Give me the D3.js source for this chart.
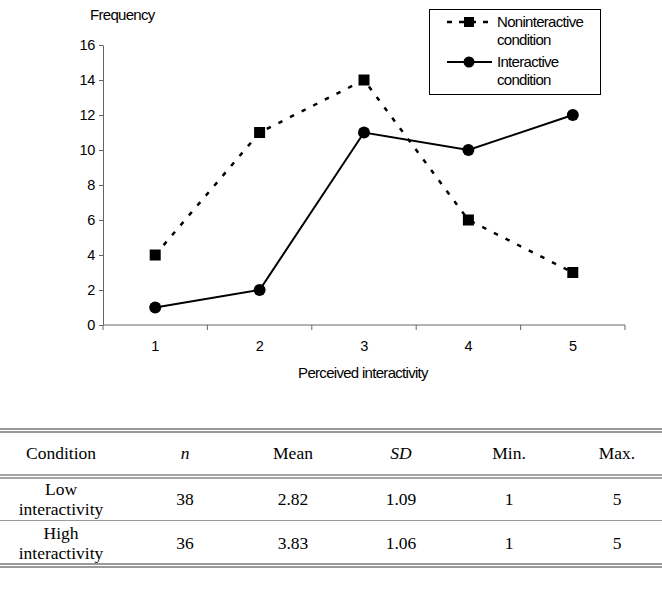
<!DOCTYPE html>
<html>
<head>
<meta charset="utf-8">
<script src="https://cdn.jsdelivr.net/npm/d3@7"></script>
<style>
  body { margin: 0; background: #fff; }
  svg { display: block; }
  .ax text { font-family: "Liberation Sans", Arial, sans-serif; font-size: 14.5px; fill: #000; letter-spacing: -0.3px; }
  .ax path, .ax line { stroke: #666; }
  .tbl text { font-family: "Liberation Serif", "Times New Roman", serif; font-size: 17.5px; fill: #000; }
</style>
</head>
<body>
<div id="chart"></div>
<script>
// 数据
const categories = [1, 2, 3, 4, 5];
const nonInteractive = [4, 11, 14, 6, 3];
const interactive = [1, 2, 11, 10, 12];
const yTicks = [0, 2, 4, 6, 8, 10, 12, 14, 16];
const legendLabels = [['Noninteractive', 'condition'], ['Interactive', 'condition']];

// 表格数据
const tableHeader = ['Condition', 'n', 'Mean', 'SD', 'Min.', 'Max.'];
const tableItalic = [false, true, false, true, false, false];
const rowNames = [['Low', 'interactivity'], ['High', 'interactivity']];
const rowN = [38, 36];
const rowMean = ['2.82', '3.83'];
const rowSD = ['1.09', '1.06'];
const rowMin = [1, 1];
const rowMax = [5, 5];

const W = 662, H = 596;
const svg = d3.select('#chart').append('svg').attr('width', W).attr('height', H);

const x = d3.scaleBand().domain(categories).range([103, 625]);
const y = d3.scaleLinear().domain([0, 16]).range([325, 45]);

// 坐标轴
svg.append('g').attr('class', 'ax').attr('transform', 'translate(103,0)')
    .call(d3.axisLeft(y).tickValues(yTicks).tickSize(4).tickSizeOuter(0).tickPadding(4));
const gx = svg.append('g').attr('class', 'ax').attr('transform', 'translate(0,325)')
    .call(d3.axisBottom(x).tickSize(0).tickPadding(16));
gx.select('.domain').remove();
gx.append('line').attr('x1', 103).attr('x2', 625).attr('stroke', '#666');
// 分类边界的刻度
const bounds = categories.map(c => x(c)).concat([x.range()[1]]);
gx.selectAll('.bnd').data(bounds).enter().append('line')
    .attr('class', 'bnd').attr('x1', d => d).attr('x2', d => d).attr('y1', 0).attr('y2', 5)
    .attr('stroke', '#666');

svg.append('text').attr('class', 'lbl').attr('x', 90).attr('y', 20).text('Frequency');
svg.append('text').attr('class', 'lbl').attr('x', 363).attr('y', 378).attr('text-anchor', 'middle').text('Perceived interactivity');
svg.selectAll('.lbl').style('font-family', '"Liberation Sans", Arial, sans-serif').style('font-size', '15px').style('letter-spacing', '-0.7px');

const cx = d => x(d) + x.bandwidth() / 2;
const line = d3.line().x((d, i) => cx(categories[i])).y(d => y(d));

// 非互动
svg.append('path').datum(nonInteractive).attr('d', line)
    .attr('fill', 'none').attr('stroke', '#000').attr('stroke-width', 2.5).attr('stroke-dasharray', '4.5,8.5');
svg.selectAll('.sq').data(nonInteractive).enter().append('rect')
    .attr('x', (d, i) => cx(categories[i]) - 5.5).attr('y', d => y(d) - 5.5)
    .attr('width', 11).attr('height', 11).attr('fill', '#000');

// 互动
svg.append('path').datum(interactive).attr('d', line)
    .attr('fill', 'none').attr('stroke', '#000').attr('stroke-width', 2);
svg.selectAll('.dot').data(interactive).enter().append('circle')
    .attr('cx', (d, i) => cx(categories[i])).attr('cy', d => y(d)).attr('r', 6).attr('fill', '#000');

// 图例
const lg = svg.append('g');
lg.append('rect').attr('x', 429.5).attr('y', 9.5).attr('width', 171).attr('height', 85)
    .attr('fill', '#fff').attr('stroke', '#000');
const lgY = [22, 62];
lg.append('line').attr('x1', 447).attr('x2', 492).attr('y1', lgY[0]).attr('y2', lgY[0])
    .attr('stroke', '#000').attr('stroke-width', 2.5).attr('stroke-dasharray', '5,7');
lg.append('rect').attr('x', 464).attr('y', lgY[0] - 5).attr('width', 10).attr('height', 10).attr('fill', '#000');
lg.append('line').attr('x1', 447).attr('x2', 492).attr('y1', lgY[1]).attr('y2', lgY[1])
    .attr('stroke', '#000').attr('stroke-width', 2);
lg.append('circle').attr('cx', 469).attr('cy', lgY[1]).attr('r', 5.5).attr('fill', '#000');
legendLabels.forEach((lab, i) => {
    const t = lg.append('text').attr('x', 497).attr('y', lgY[i] + 5)
        .style('font-family', '"Liberation Sans", Arial, sans-serif').style('font-size', '15px').style('letter-spacing', '-0.7px');
    t.append('tspan').attr('x', 497).text(lab[0]);
    t.append('tspan').attr('x', 497).attr('dy', 17.5).text(lab[1]);
});

// 表格
const tbl = svg.append('g').attr('class', 'tbl');
const colX = [61, 185, 293, 401, 509, 617];
function rule(yy, w, c) {
    tbl.append('line').attr('x1', 0).attr('x2', W).attr('y1', yy).attr('y2', yy)
        .attr('stroke', c).attr('stroke-width', w);
}
rule(429, 1.3, '#777'); rule(432, 1.3, '#777');
rule(475, 1.3, '#888'); rule(478, 1.3, '#888');
rule(520.5, 1, '#999');
rule(564, 1.3, '#777'); rule(567, 1.3, '#777');

tableHeader.forEach((h, i) => {
    tbl.append('text').attr('x', colX[i]).attr('y', 459).attr('text-anchor', 'middle')
        .style('font-style', tableItalic[i] ? 'italic' : 'normal').text(h);
});
const rowMid = [499, 543];
rowNames.forEach((r, j) => {
    const cols = [null, rowN[j], rowMean[j], rowSD[j], rowMin[j], rowMax[j]];
    tbl.append('text').attr('x', colX[0]).attr('y', rowMid[j] - 4).attr('text-anchor', 'middle').text(r[0]);
    tbl.append('text').attr('x', colX[0]).attr('y', rowMid[j] + 16).attr('text-anchor', 'middle').text(r[1]);
    cols.forEach((v, i) => {
        if (v === null) return;
        tbl.append('text').attr('x', colX[i]).attr('y', rowMid[j] + 6).attr('text-anchor', 'middle').text(v);
    });
});
</script>
</body>
</html>
